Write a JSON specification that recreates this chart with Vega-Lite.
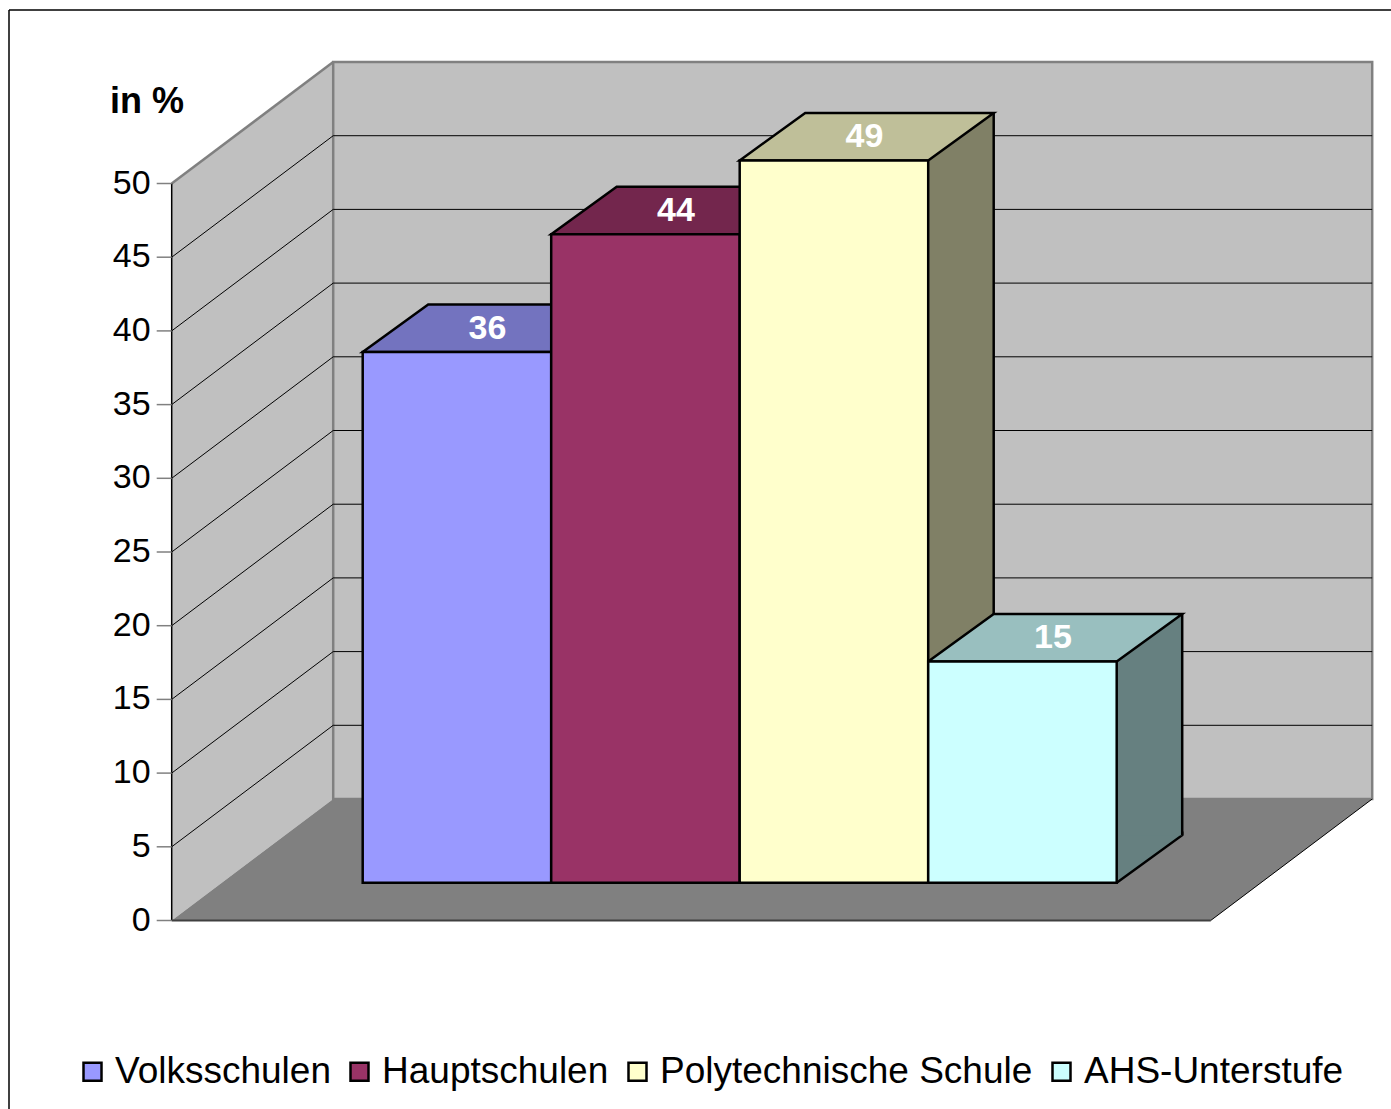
{
  "$schema": "https://vega.github.io/schema/vega-lite/v6.json",
  "width": 1219.3,
  "height": 1099,
  "autosize": {"type": "none"},
  "padding": {"left": 171.7, "top": 10, "right": 0, "bottom": 0},
  "background": "white",
  "config": {"view": {"stroke": null}, "font": "Liberation Sans"},
  "datasets": {
    "bars": [
      {"category": "Volksschulen", "value": 36},
      {"category": "Hauptschulen", "value": 44},
      {"category": "Polytechnische Schule", "value": 49},
      {"category": "AHS-Unterstufe", "value": 15}
    ],
    "ticks": [{"v": 0}, {"v": 5}, {"v": 10}, {"v": 15}, {"v": 20}, {"v": 25}, {"v": 30}, {"v": 35}, {"v": 40}, {"v": 45}, {"v": 50}],
    "one": [{}]
  },
  "layer": [
    {
      "data": {"name": "one"},
      "layer": [
        {
          "mark": {"type": "point", "shape": "M0,0 L0,-737 L161.5,-858.5 L161.5,-121.5 Z", "size": 4, "filled": true, "fill": "#C0C0C0", "strokeWidth": 0, "opacity": 1},
          "encoding": {
            "x": {"datum": 0, "type": "quantitative", "scale": {"domain": [0, 117.353], "nice": false, "zero": false}, "axis": null},
            "y": {"datum": 0, "type": "quantitative", "scale": {"domain": [-12.788, 61.771], "nice": false, "zero": false}, "axis": null}
          }
        },
        {
          "mark": {"type": "rect", "fill": "#C0C0C0", "stroke": "#808080", "strokeWidth": 2.5, "xOffset": 161.5, "x2Offset": 161.5, "yOffset": -121.5, "y2Offset": -121.5},
          "encoding": {
            "x": {"datum": 0, "type": "quantitative", "scale": {"domain": [0, 117.353], "nice": false, "zero": false}, "axis": null},
            "x2": {"datum": 100},
            "y": {"datum": 0, "type": "quantitative", "scale": {"domain": [-12.788, 61.771], "nice": false, "zero": false}, "axis": null},
            "y2": {"datum": 50}
          }
        },
        {
          "mark": {"type": "point", "shape": "M0,0 L1039,0 L1200.5,-121.5 L161.5,-121.5 Z", "size": 4, "filled": true, "fill": "#808080", "strokeWidth": 0, "opacity": 1},
          "encoding": {
            "x": {"datum": 0, "type": "quantitative", "scale": {"domain": [0, 117.353], "nice": false, "zero": false}, "axis": null},
            "y": {"datum": 0, "type": "quantitative", "scale": {"domain": [-12.788, 61.771], "nice": false, "zero": false}, "axis": null}
          }
        },
        {
          "data": {"name": "ticks"},
          "transform": [{"filter": "datum.v > 0 && datum.v < 50"}],
          "mark": {"type": "rule", "color": "black", "strokeWidth": 1, "x2Offset": 161.5, "y2Offset": -121.5},
          "encoding": {
            "x": {"datum": 0, "type": "quantitative", "scale": {"domain": [0, 117.353], "nice": false, "zero": false}, "axis": null},
            "x2": {"datum": 0},
            "y": {"field": "v", "type": "quantitative", "scale": {"domain": [-12.788, 61.771], "nice": false, "zero": false}, "axis": null},
            "y2": {"field": "v"}
          }
        },
        {
          "data": {"name": "ticks"},
          "transform": [{"filter": "datum.v > 0 && datum.v < 50"}],
          "mark": {"type": "rule", "color": "black", "strokeWidth": 1, "xOffset": 161.5, "x2Offset": 161.5, "yOffset": -121.5},
          "encoding": {
            "x": {"datum": 0, "type": "quantitative", "scale": {"domain": [0, 117.353], "nice": false, "zero": false}, "axis": null},
            "x2": {"datum": 100},
            "y": {"field": "v", "type": "quantitative", "scale": {"domain": [-12.788, 61.771], "nice": false, "zero": false}, "axis": null}
          }
        },
        {
          "mark": {"type": "rule", "color": "#808080", "strokeWidth": 2.5, "x2Offset": 161.5, "y2Offset": -121.5},
          "encoding": {
            "x": {"datum": 0, "type": "quantitative", "scale": {"domain": [0, 117.353], "nice": false, "zero": false}, "axis": null},
            "x2": {"datum": 0},
            "y": {"datum": 50, "type": "quantitative", "scale": {"domain": [-12.788, 61.771], "nice": false, "zero": false}, "axis": null},
            "y2": {"datum": 50}
          }
        },
        {
          "mark": {"type": "rule", "color": "black", "strokeWidth": 1.5},
          "encoding": {
            "x": {"datum": 0, "type": "quantitative", "scale": {"domain": [0, 117.353], "nice": false, "zero": false}, "axis": null},
            "y": {"datum": 0, "type": "quantitative", "scale": {"domain": [-12.788, 61.771], "nice": false, "zero": false}, "axis": null},
            "y2": {"datum": 50}
          }
        },
        {
          "mark": {"type": "rule", "color": "#404040", "strokeWidth": 2},
          "encoding": {
            "x": {"datum": 0, "type": "quantitative", "scale": {"domain": [0, 117.353], "nice": false, "zero": false}, "axis": null},
            "x2": {"datum": 100},
            "y": {"datum": 0, "type": "quantitative", "scale": {"domain": [-12.788, 61.771], "nice": false, "zero": false}, "axis": null}
          }
        },
        {
          "mark": {"type": "rule", "color": "black", "strokeWidth": 1, "x2Offset": 161.5, "y2Offset": -121.5},
          "encoding": {
            "x": {"datum": 100, "type": "quantitative", "scale": {"domain": [0, 117.353], "nice": false, "zero": false}, "axis": null},
            "x2": {"datum": 100},
            "y": {"datum": 0, "type": "quantitative", "scale": {"domain": [-12.788, 61.771], "nice": false, "zero": false}, "axis": null},
            "y2": {"datum": 0}
          }
        },
        {
          "data": {"name": "ticks"},
          "mark": {"type": "rule", "color": "#808080", "strokeWidth": 1.5, "xOffset": -15},
          "encoding": {
            "x": {"datum": 0, "type": "quantitative", "scale": {"domain": [0, 117.353], "nice": false, "zero": false}, "axis": null},
            "x2": {"datum": 0},
            "y": {"field": "v", "type": "quantitative", "scale": {"domain": [-12.788, 61.771], "nice": false, "zero": false}, "axis": null}
          }
        },
        {
          "data": {"name": "ticks"},
          "mark": {"type": "text", "font": "Liberation Sans", "fontSize": 34, "color": "black", "align": "right", "baseline": "middle", "xOffset": -21},
          "encoding": {
            "x": {"datum": 0, "type": "quantitative", "scale": {"domain": [0, 117.353], "nice": false, "zero": false}, "axis": null},
            "y": {"field": "v", "type": "quantitative", "scale": {"domain": [-12.788, 61.771], "nice": false, "zero": false}, "axis": null},
            "text": {"field": "v", "type": "quantitative", "format": "d"}
          }
        },
        {
          "mark": {"type": "text", "text": "in %", "font": "Liberation Sans", "fontSize": 36, "fontWeight": "bold", "color": "black", "align": "left", "baseline": "alphabetic", "xOffset": -61.7, "yOffset": -70.5},
          "encoding": {
            "x": {"datum": 0, "type": "quantitative", "scale": {"domain": [0, 117.353], "nice": false, "zero": false}, "axis": null},
            "y": {"datum": 50, "type": "quantitative", "scale": {"domain": [-12.788, 61.771], "nice": false, "zero": false}, "axis": null}
          }
        },
        {
          "mark": {"type": "rule", "color": "black", "strokeWidth": 1.5},
          "encoding": {
            "x": {"datum": -15.659, "type": "quantitative", "scale": {"domain": [0, 117.353], "nice": false, "zero": false}, "axis": null},
            "x2": {"datum": 117.353},
            "y": {"datum": 61.771, "type": "quantitative", "scale": {"domain": [-12.788, 61.771], "nice": false, "zero": false}, "axis": null}
          }
        },
        {
          "mark": {"type": "rule", "color": "black", "strokeWidth": 1.5},
          "encoding": {
            "x": {"datum": -15.659, "type": "quantitative", "scale": {"domain": [0, 117.353], "nice": false, "zero": false}, "axis": null},
            "y": {"datum": -12.788, "type": "quantitative", "scale": {"domain": [-12.788, 61.771], "nice": false, "zero": false}, "axis": null},
            "y2": {"datum": 61.771}
          }
        }
      ]
    },
    {
      "data": {"name": "bars"},
      "resolve": {"scale": {"fill": "independent"}},
      "layer": [
        {
          "mark": {"type": "point", "shape": "M94.25,0 L159.75,-47.5 L159.75,-50 L94.25,-50", "size": 4, "filled": true, "stroke": "black", "strokeWidth": 2.5, "opacity": 1, "yOffset": -37.8},
          "encoding": {
            "x": {"field": "category", "type": "nominal", "sort": null, "scale": {"type": "band", "domain": ["Volksschulen", "Hauptschulen", "Polytechnische Schule", "AHS-Unterstufe"], "range": [191, 945], "paddingInner": 0, "paddingOuter": 0}, "axis": null},
            "y": {"datum": 0, "type": "quantitative", "scale": {"domain": [-12.788, 61.771], "nice": false, "zero": false}, "axis": null},
            "fill": {"field": "category", "type": "nominal", "scale": {"domain": ["Volksschulen", "Hauptschulen", "Polytechnische Schule", "AHS-Unterstufe"], "range": ["#4D4D80", "#4D1A33", "#808066", "#668080"]}, "legend": null}
          }
        },
        {
          "mark": {"type": "bar", "width": 65.5, "xOffset": 127, "yOffset": -37.8, "y2Offset": -85.3, "strokeWidth": 0},
          "encoding": {
            "x": {"field": "category", "type": "nominal", "sort": null, "scale": {"type": "band", "domain": ["Volksschulen", "Hauptschulen", "Polytechnische Schule", "AHS-Unterstufe"], "range": [191, 945], "paddingInner": 0, "paddingOuter": 0}, "axis": null},
            "y": {"field": "value", "type": "quantitative", "scale": {"domain": [-12.788, 61.771], "nice": false, "zero": false}, "axis": null},
            "y2": {"datum": 0},
            "fill": {"field": "category", "type": "nominal", "scale": {"domain": ["Volksschulen", "Hauptschulen", "Polytechnische Schule", "AHS-Unterstufe"], "range": ["#4D4D80", "#4D1A33", "#808066", "#668080"]}, "legend": null}
          }
        },
        {
          "mark": {"type": "point", "shape": "M94.25,0 L159.75,-47.5 L159.75,1 L94.25,1 Z", "size": 4, "filled": true, "strokeWidth": 0, "opacity": 1, "yOffset": -37.8},
          "encoding": {
            "x": {"field": "category", "type": "nominal", "sort": null, "scale": {"type": "band", "domain": ["Volksschulen", "Hauptschulen", "Polytechnische Schule", "AHS-Unterstufe"], "range": [191, 945], "paddingInner": 0, "paddingOuter": 0}, "axis": null},
            "y": {"field": "value", "type": "quantitative", "scale": {"domain": [-12.788, 61.771], "nice": false, "zero": false}, "axis": null},
            "fill": {"field": "category", "type": "nominal", "scale": {"domain": ["Volksschulen", "Hauptschulen", "Polytechnische Schule", "AHS-Unterstufe"], "range": ["#4D4D80", "#4D1A33", "#808066", "#668080"]}, "legend": null}
          }
        },
        {
          "mark": {"type": "rule", "color": "black", "strokeWidth": 2.5, "xOffset": 159.75, "yOffset": -85.3, "y2Offset": -85.3},
          "encoding": {
            "x": {"field": "category", "type": "nominal", "sort": null, "scale": {"type": "band", "domain": ["Volksschulen", "Hauptschulen", "Polytechnische Schule", "AHS-Unterstufe"], "range": [191, 945], "paddingInner": 0, "paddingOuter": 0}, "axis": null},
            "y": {"field": "value", "type": "quantitative", "scale": {"domain": [-12.788, 61.771], "nice": false, "zero": false}, "axis": null},
            "y2": {"datum": 0}
          }
        },
        {
          "mark": {"type": "point", "shape": "M-94.25,0 L94.25,0 L159.75,-47.5 L-28.75,-47.5 Z", "size": 4, "filled": true, "stroke": "black", "strokeWidth": 2.5, "opacity": 1, "yOffset": -37.8},
          "encoding": {
            "x": {"field": "category", "type": "nominal", "sort": null, "scale": {"type": "band", "domain": ["Volksschulen", "Hauptschulen", "Polytechnische Schule", "AHS-Unterstufe"], "range": [191, 945], "paddingInner": 0, "paddingOuter": 0}, "axis": null},
            "y": {"field": "value", "type": "quantitative", "scale": {"domain": [-12.788, 61.771], "nice": false, "zero": false}, "axis": null},
            "fill": {"field": "category", "type": "nominal", "scale": {"domain": ["Volksschulen", "Hauptschulen", "Polytechnische Schule", "AHS-Unterstufe"], "range": ["#7373BF", "#73264D", "#BFBF99", "#99BFBF"]}, "legend": null}
          }
        },
        {
          "mark": {"type": "bar", "stroke": "black", "strokeWidth": 2.5, "opacity": 1, "yOffset": -37.8, "y2Offset": -37.8},
          "encoding": {
            "x": {"field": "category", "type": "nominal", "sort": null, "scale": {"type": "band", "domain": ["Volksschulen", "Hauptschulen", "Polytechnische Schule", "AHS-Unterstufe"], "range": [191, 945], "paddingInner": 0, "paddingOuter": 0}, "axis": null},
            "y": {"field": "value", "type": "quantitative", "scale": {"domain": [-12.788, 61.771], "nice": false, "zero": false}, "axis": null},
            "y2": {"datum": 0},
            "color": {"field": "category", "type": "nominal", "scale": {"domain": ["Volksschulen", "Hauptschulen", "Polytechnische Schule", "AHS-Unterstufe"], "range": ["#9999FF", "#993366", "#FFFFCC", "#CCFFFF"]},
              "legend": {"orient": "none", "legendX": -97.7, "legendY": 1043, "direction": "horizontal", "columns": 4, "title": null, "padding": 0, "symbolType": "square", "symbolSize": 324, "symbolStrokeColor": "black", "symbolStrokeWidth": 2.5, "symbolOpacity": 1, "labelFontSize": 37, "labelFont": "Liberation Sans", "labelColor": "black", "labelOffset": 4, "columnPadding": 10, "labelLimit": 600}}
          }
        },
        {
          "mark": {"type": "text", "font": "Liberation Sans", "fontSize": 34, "fontWeight": "bold", "fill": "white", "align": "center", "baseline": "middle", "xOffset": 30.5, "yOffset": -61},
          "encoding": {
            "x": {"field": "category", "type": "nominal", "sort": null, "scale": {"type": "band", "domain": ["Volksschulen", "Hauptschulen", "Polytechnische Schule", "AHS-Unterstufe"], "range": [191, 945], "paddingInner": 0, "paddingOuter": 0}, "axis": null},
            "y": {"field": "value", "type": "quantitative", "scale": {"domain": [-12.788, 61.771], "nice": false, "zero": false}, "axis": null},
            "text": {"field": "value", "type": "quantitative", "format": "d"}
          }
        }
      ]
    }
  ],
  "resolve": {"scale": {"x": "independent"}}
}
